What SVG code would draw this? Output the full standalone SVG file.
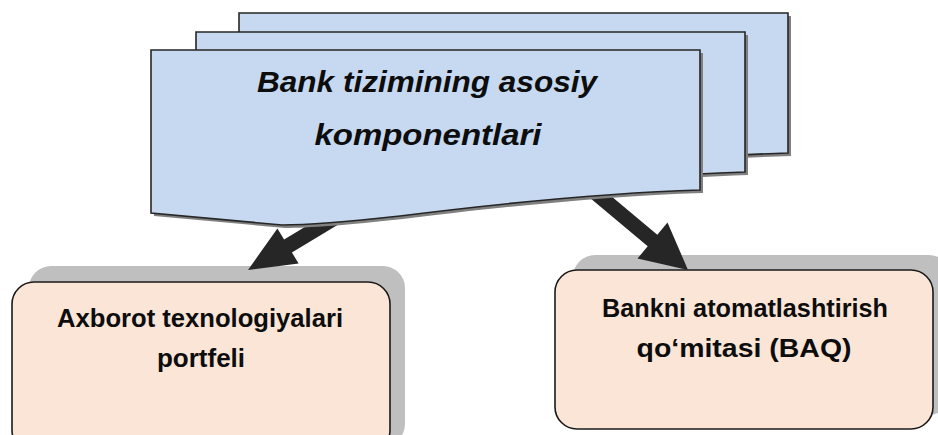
<svg xmlns="http://www.w3.org/2000/svg" width="938" height="435" viewBox="0 0 938 435">
<defs>
<style>
.doc{fill:#c6d9f1;stroke:#262626;stroke-width:1.6;stroke-linejoin:miter}
.docsh{fill:#808080}
.box{fill:#fbe5d6;stroke:#1a1a1a;stroke-width:1.6}
.boxsh{fill:#bfbfbf}
.arrow{fill:#262626}
.t{font-family:"Liberation Sans",Arial,sans-serif;font-weight:bold;fill:#0d0d0d;text-anchor:middle}
.title{font-style:italic;font-size:30px}
.lbl{font-size:25px}
</style>
<path id="docshape" d="M151,50 H700 V190 C600,193 480,206 400,216 C345,222 305,225 282,225 L151,213 Z"/>
</defs>
<rect width="938" height="435" fill="#ffffff"/>

<g id="node-axborot">
<rect class="boxsh" x="29" y="266" width="376" height="180" rx="22"/>
<rect class="box" x="12" y="282" width="378" height="170" rx="22"/>
<text class="t lbl" x="200" y="327" textLength="286" lengthAdjust="spacingAndGlyphs">Axborot texnologiyalari</text>
<text class="t lbl" x="201" y="367" textLength="88" lengthAdjust="spacingAndGlyphs">portfeli</text>
</g>

<g id="node-baq">
<rect class="boxsh" x="573" y="255" width="378" height="160" rx="22"/>
<rect class="box" x="555" y="270" width="378" height="159" rx="22"/>
<text class="t lbl" x="745" y="317" textLength="286" lengthAdjust="spacingAndGlyphs">Bankni atomatlashtirish</text>
<text class="t lbl" x="744" y="357" textLength="215" lengthAdjust="spacingAndGlyphs">qo‘mitasi (BAQ)</text>
</g>

<g id="connectors">
<polygon class="arrow" points="343.3,221.4 291.9,252.4 298.6,263.6 248,270 277.4,228.4 284.1,239.6 335.6,208.6"/>
<polygon class="arrow" points="586.2,194.8 647.7,246.3 637.5,258.6 688,270 667.5,222.4 657.3,234.7 595.8,183.2"/>
</g>

<g id="node-bank">
<use href="#docshape" class="docsh" transform="translate(91,-34)"/>
<use href="#docshape" class="doc" transform="translate(88,-37)"/>
<use href="#docshape" class="docsh" transform="translate(48,-15)"/>
<use href="#docshape" class="doc" transform="translate(45,-18)"/>
<use href="#docshape" class="docsh" transform="translate(3,3)"/>
<use href="#docshape" class="doc"/>
<text class="t title" x="427" y="92" textLength="340" lengthAdjust="spacingAndGlyphs">Bank tizimining asosiy</text>
<text class="t title" x="428" y="145" textLength="227" lengthAdjust="spacingAndGlyphs">komponentlari</text>
</g>
</svg>
